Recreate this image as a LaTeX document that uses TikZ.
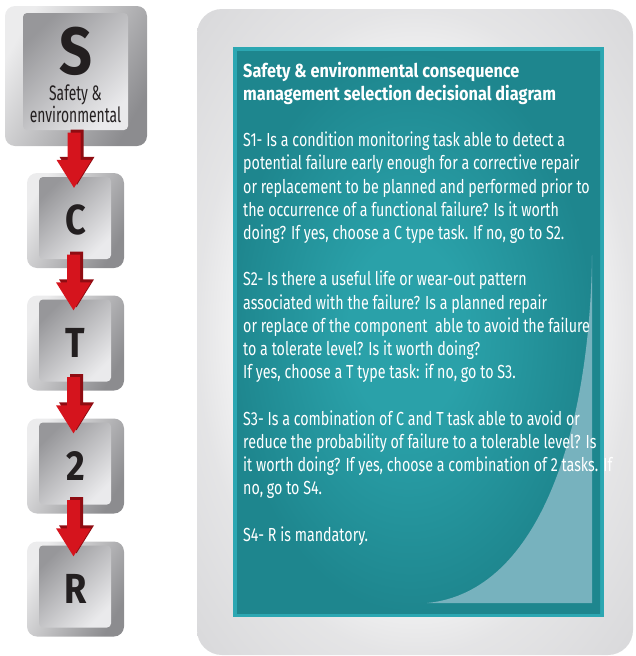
\documentclass[tikz,border=0pt]{standalone}
\usepackage{fontspec}
\setmainfont{Fira Sans}[FakeStretch=0.755]
\newfontfamily\titlefont{Fira Sans}[FakeStretch=0.86]
\newfontfamily\keyfont{Fira Sans}[FakeStretch=0.86]
\newfontfamily\labelfont{Fira Sans}[FakeStretch=0.66]
\usetikzlibrary{calc}

\definecolor{keyhi}{HTML}{ECECED}
\definecolor{keylo}{HTML}{8C8C8F}
\definecolor{capdark}{HTML}{97979A}
\definecolor{caplight}{HTML}{EAEAEC}
\definecolor{letter}{HTML}{231F20}
\definecolor{arrowred}{HTML}{D5141D}
\definecolor{arrowside}{HTML}{8F0C12}
\definecolor{panelgrey}{HTML}{D9D9DB}
\definecolor{tealedge}{HTML}{2CA7B2}
\definecolor{tealdeep}{HTML}{1E868E}
\definecolor{tealmid}{HTML}{2AA1A9}
\definecolor{curl}{HTML}{77B2BE}

\pgfdeclareradialshading{panelglow}{\pgfpoint{0bp}{0bp}}{color(0bp)=(white); color(16bp)=(white); color(25bp)=(panelgrey!70); color(35bp)=(panelgrey); color(50bp)=(panelgrey)}
\pgfdeclareradialshading{tealglow}{\pgfpoint{-2bp}{0bp}}{color(0bp)=(tealmid); color(8bp)=(tealmid); color(25bp)=(tealdeep); color(50bp)=(tealdeep)}

\tikzset{
  panel/.style={rounded corners=25pt, shading=panelglow, minimum width=436pt, minimum height=646pt},
  board/.style={fill=tealedge, minimum width=371pt, minimum height=570pt},
  boardface/.style={shading=tealglow, minimum width=363pt, minimum height=562pt},
  keybody/.style={rounded corners=10pt, top color=keyhi, bottom color=keylo, shading angle=60, minimum width=97pt, minimum height=95pt},
  keycap/.style={rounded corners=4pt, top color=capdark, bottom color=caplight, shading angle=45, minimum width=72pt, minimum height=82pt},
  keyletter/.style={inner sep=0pt, text=letter, font=\keyfont\bfseries\fontsize{42}{42}\selectfont},
  % multi-line nodes sit on the baseline of their last line
  paneltext/.style={anchor=base west, inner sep=0pt, align=left, text=white, font=\fontsize{18.9}{23.2}\selectfont},
}

% red 3d arrow between two keys: dark side first, then the face
\newcommand\keyarrow[2]{%
  \foreach \ox/\oy/\col in {1/-3/arrowside, -2/0/arrowred}
    \fill[\col] let \p1=($(#1.south)+(\ox,\oy-13.5)$), \p2=($(#2.north)+(\ox,\oy+15)$) in
      (\x1-6.5pt,\y1) -- (\x1+6.5pt,\y1) -- (\x1+6.5pt,\y2+28pt) -- (\x1+17.5pt,\y2+28pt)
      -- (\x1,\y2) -- (\x1-17.5pt,\y2+28pt) -- (\x1-6.5pt,\y2+28pt) -- cycle;
}

\begin{document}
\begin{tikzpicture}[x=1pt,y=-1pt]
\useasboundingbox (0,0) rectangle (635,656);

% card with the teal board
\node[panel] (card) at (415,332) {};
\node[board] (board) at (418.5,332) {};
\node[boardface] (face) at (418.5,332) {};
\fill[curl] (427,603) .. controls (540,592) and (590,430) .. (592,255) -- (592,603) -- cycle;

\node[paneltext, font=\titlefont\bfseries\fontsize{18.9}{23.2}\selectfont] (title) at (243,100.2)
  {Safety \& environmental consequence\\management selection decisional diagram};
\node[paneltext] (stepone) at (243,239.4)
  {S1- Is a condition monitoring task able to detect a\\
   potential failure early enough for a corrective repair\\
   or replacement to be planned and performed prior to\\
   the occurrence of a functional failure? Is it worth\\
   doing? If yes, choose a C type task. If no, go to S2.};
\node[paneltext] (steptwo) at (243,378.6)
  {S2- Is there a useful life or wear-out pattern\\
   associated with the failure? Is a planned repair\\
   or replace of the component~ able to avoid the failure\\
   to a tolerate level? Is it worth doing?\\
   If yes, choose a T type task: if no, go to S3.};
\node[paneltext] (stepthree) at (243,494.6)
  {S3- Is a combination of C and T task able to avoid or\\
   reduce the probability of failure to a tolerable level? Is\\
   it worth doing? If yes, choose a combination of 2 tasks. If\\
   no, go to S4.};
\node[paneltext] (stepfour) at (243,541) {S4- R is mandatory.};

% keys
\node[keybody, minimum width=142pt, minimum height=140pt] (bodyS) at (76,76) {};
\node[keycap, minimum width=105pt, minimum height=117pt] (capS) at (75.5,71.5) {};
\node[keyletter, anchor=base, font=\keyfont\bfseries\fontsize{66.8}{66.8}\selectfont] (letS) at (76,74) {S};
\node[keyletter, anchor=base, font=\labelfont\fontsize{21}{22}\selectfont, align=center] (nameS) at (75.5,122)
  {Safety \&\\environmental};

\foreach \k/\yy in {C/220.5, T/343, 2/466, R/589}{
  \node[keybody] (body\k) at (75.5,\yy) {};
  \node[keycap] (cap\k) at (75,\yy-2.5) {};
  \node[keyletter, anchor=base] (let\k) at (75.5,\yy+14) {\k};
}

\keyarrow{bodyS}{bodyC}
\keyarrow{bodyC}{bodyT}
\keyarrow{bodyT}{body2}
\keyarrow{body2}{bodyR}
\end{tikzpicture}
\end{document}
